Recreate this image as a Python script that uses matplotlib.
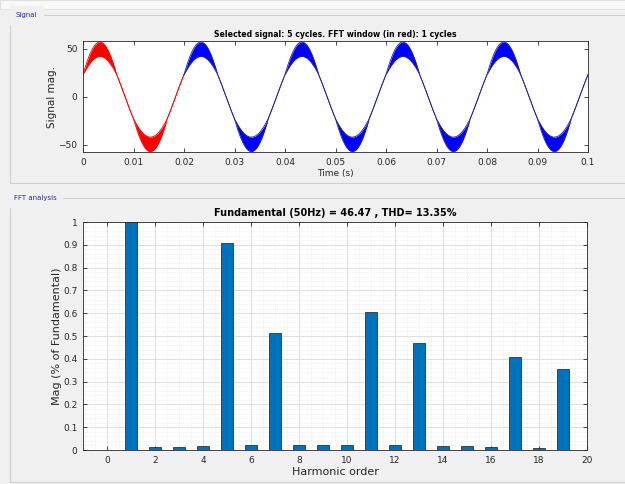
import numpy as np
import matplotlib as mpl
mpl.use('Agg')
from matplotlib import pyplot as plt
from matplotlib.patches import Rectangle
from matplotlib.ticker import MultipleLocator

# one cycle of the signal (50 Hz, sampled every 6 deg starting at 30 deg)
# upper / lower edge of the switching band, equal where there is no band
cyc_top = [23, 29.0, 34.5, 39.5, 44.0, 47.9, 51.1, 53.7, 55.5, 56.6, 57.0,
           56.6, 55.5, 53.7, 51.1, 47.9, 44.0, 39.5, 34.5, 29.0, 23,
           18.7, 14.2, 9.6, 4.8, 0, -4.8, -9.6, -14.2, -18.7,
           -23, -26.3, -29.4, -32.2, -34.7, -36.9, -38.7, -40.1, -41.2, -41.8, -42.0,
           -41.8, -41.2, -40.1, -38.7, -36.9, -34.7, -32.2, -29.4, -26.3, -23,
           -18.7, -14.2, -9.6, -4.8, 0, 4.8, 9.6, 14.2, 18.7, 23]
cyc_bot = [23, 26.3, 29.4, 32.2, 34.7, 36.9, 38.7, 40.1, 41.2, 41.8, 42.0,
           41.8, 41.2, 40.1, 38.7, 36.9, 34.7, 32.2, 29.4, 26.3, 23,
           18.7, 14.2, 9.6, 4.8, 0, -4.8, -9.6, -14.2, -18.7,
           -23, -29.0, -34.5, -39.5, -44.0, -47.9, -51.1, -53.7, -55.5, -56.6, -57.0,
           -56.6, -55.5, -53.7, -51.1, -47.9, -44.0, -39.5, -34.5, -29.0, -23,
           -18.7, -14.2, -9.6, -4.8, 0, 4.8, 9.6, 14.2, 18.7, 23]
n_cycles = 5
t_end = 0.1

harm_order = list(range(20))
harm_mag = [0.0, 1.0, 0.012, 0.013, 0.018, 0.91, 0.02, 0.515, 0.024, 0.024,
            0.024, 0.605, 0.02, 0.47, 0.017, 0.017, 0.015, 0.41, 0.01, 0.355]

sig_title = 'Selected signal: 5 cycles. FFT window (in red): 1 cycles'
fft_title = 'Fundamental (50Hz) = 46.47 , THD= 13.35%'

# build the 5 cycle record from the one-cycle samples
top = np.concatenate([cyc_top[:-1]] * n_cycles + [[cyc_top[-1]]])
bot = np.concatenate([cyc_bot[:-1]] * n_cycles + [[cyc_bot[-1]]])
t = np.linspace(0, t_end, len(top))
npc = len(cyc_top) - 1

bg = '#f0f0f0'
tc = '#262626'
fig = plt.figure(figsize=(6.25, 4.84), dpi=100, facecolor=bg)

# group boxes
for (x0, y0, w, h) in [(10, 15, 640, 168), (10, 198, 640, 284)]:
    fig.patches.append(Rectangle((x0/625, 1-(y0+h)/484), w/625, h/484,
                                 transform=fig.transFigure, fill=False,
                                 edgecolor='#cfcfcf', lw=0.8))
fig.patches.append(Rectangle((0, 1-9/484), 1, 9/484, transform=fig.transFigure,
                             facecolor='#f8f8f8', edgecolor='#dddddd', lw=0.6))
fig.text(16/625, 1-15/484, 'Signal', fontsize=5, color='#2b2b8f',
         va='center', backgroundcolor=bg)
fig.text(14/625, 1-198/484, 'FFT analysis', fontsize=5, color='#2b2b8f',
         va='center', backgroundcolor=bg)

# ---- signal
ax0 = fig.add_axes([83/625, 1-152/484, 505/625, 111/484])
ax0.fill_between(t[:npc+1], bot[:npc+1], top[:npc+1], color='red', lw=0)
ax0.plot(t[:npc+1], top[:npc+1], color='red', lw=0.6)
ax0.plot(t[:npc+1], bot[:npc+1], color='red', lw=0.6)
ax0.fill_between(t[npc:], bot[npc:], top[npc:], color='blue', lw=0)
ax0.plot(t[npc:], top[npc:], color='#2020a0', lw=0.6)
ax0.plot(t[npc:], bot[npc:], color='#2020a0', lw=0.6)
ax0.set_xlim(0, t_end)
ax0.set_ylim(-57.5, 58)
ax0.set_xticks(np.arange(0, 0.101, 0.01))
ax0.set_xticklabels(['0'] + ['%g' % v for v in np.arange(0.01, 0.101, 0.01)])
ax0.set_yticks([-50, 0, 50])
ax0.set_title(sig_title, fontsize=5.6, fontweight='bold', color='black', pad=3)
ax0.set_xlabel('Time (s)', fontsize=6.5, color=tc, labelpad=2)
ax0.set_ylabel('Signal mag.', fontsize=7.5, color=tc, labelpad=1)

# ---- FFT
ax1 = fig.add_axes([83/625, 1-450/484, 504/625, 228/484])
ax1.bar(harm_order, harm_mag, width=0.5, color='#0072bd',
        edgecolor='#1a1a1a', lw=0.5, zorder=3)
ax1.set_xlim(-1, 20)
ax1.set_ylim(0, 1)
ax1.set_xticks(range(0, 21, 2))
ax1.set_yticks(np.round(np.arange(0, 1.01, 0.1), 1))
ax1.set_yticklabels(['0'] + ['%g' % v for v in np.round(np.arange(0.1, 1.01, 0.1), 1)])
ax1.xaxis.set_minor_locator(MultipleLocator(0.5))
ax1.yaxis.set_minor_locator(MultipleLocator(0.02))
ax1.grid(True, which='major', color='#d9d9d9', lw=0.6, zorder=0)
ax1.grid(True, which='minor', color='#e4e4e4', lw=0.5, ls=':', zorder=0)
ax1.tick_params(which='minor', length=0)
ax1.set_title(fft_title, fontsize=7, fontweight='bold', color='black', pad=4)
ax1.set_xlabel('Harmonic order', fontsize=8, color=tc, labelpad=2)
ax1.set_ylabel('Mag (% of Fundamental)', fontsize=8, color=tc, labelpad=1)

for ax in (ax0, ax1):
    ax.set_facecolor('white')
    ax.tick_params(which='major', direction='in', top=True, right=True,
                   length=3, width=0.6, labelsize=6.5, colors=tc, pad=4)
    for s in ax.spines.values():
        s.set_color('#262626')
        s.set_linewidth(0.6)

plt.savefig('out.png', dpi=100, facecolor=bg)
